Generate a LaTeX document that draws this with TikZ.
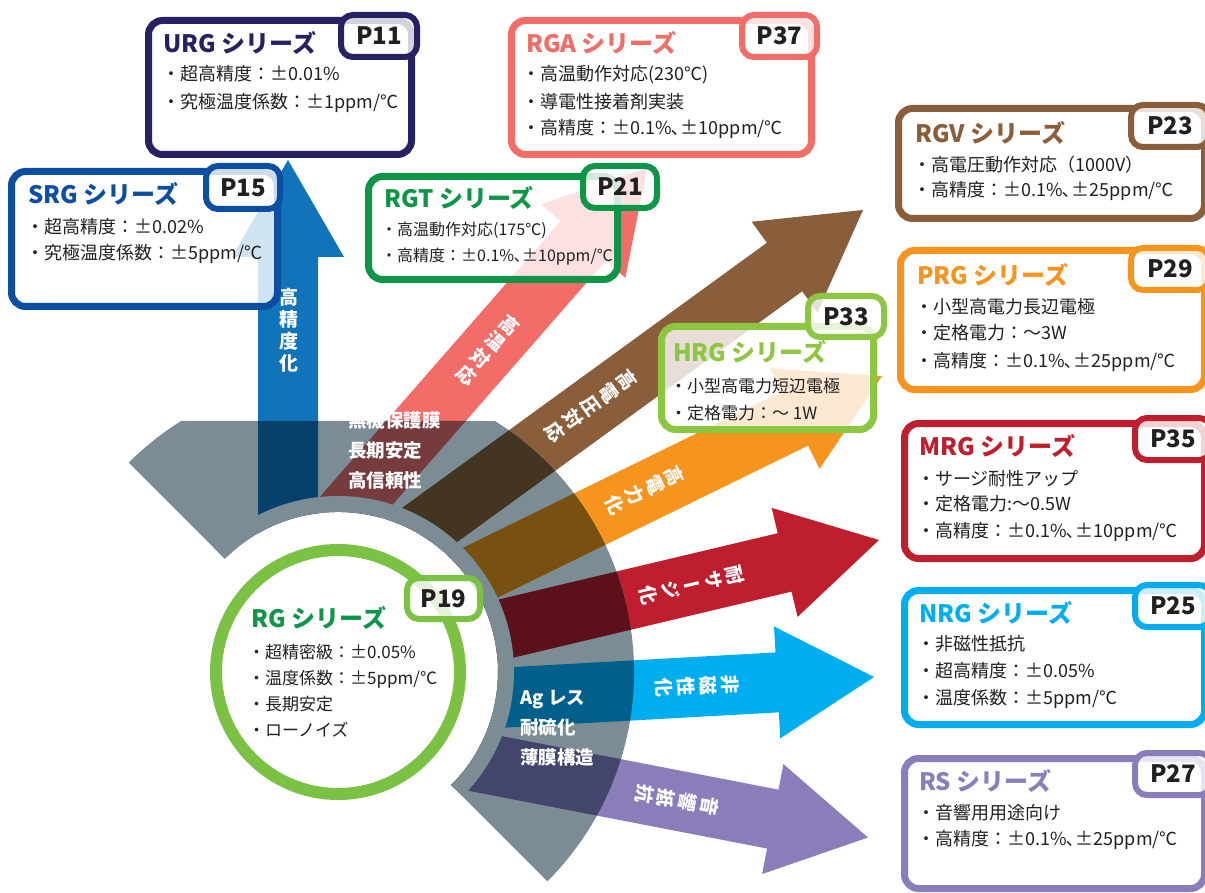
\documentclass[tikz,border=0pt]{standalone}
\usepackage{fontspec}
\setmainfont{Noto Sans CJK JP}
\newfontfamily\jpv{Noto Sans CJK JP}[RawFeature=+vert]
\usetikzlibrary{calc}

\definecolor{navyc}{HTML}{262262}
\definecolor{srgc}{HTML}{0B4EA2}
\definecolor{bluea}{HTML}{1174BB}
\definecolor{blued}{HTML}{08406C}
\definecolor{salm}{HTML}{F26C68}
\definecolor{salmd}{HTML}{763B3C}
\definecolor{rgtg}{HTML}{0F9547}
\definecolor{brn}{HTML}{8B5E3B}
\definecolor{brnd}{HTML}{443422}
\definecolor{org}{HTML}{F7941E}
\definecolor{orgd}{HTML}{785111}
\definecolor{hrgg}{HTML}{8DC640}
\definecolor{redc}{HTML}{BE1E2D}
\definecolor{redd}{HTML}{5C101A}
\definecolor{cyanc}{HTML}{00AEEF}
\definecolor{cyand}{HTML}{00608B}
\definecolor{purp}{HTML}{8A7DBA}
\definecolor{purpd}{HTML}{43456C}
\definecolor{greyc}{HTML}{7C8C94}
\definecolor{rgring}{HTML}{7BC143}
\definecolor{txt}{HTML}{231F20}

\newcommand\fatarrow[3]{%
  \coordinate (fa-B) at (#1);
  \coordinate (fa-T) at (#2);
  \coordinate (fa-H) at ($(fa-T)!97pt!(fa-B)$);
  \fill[#3] ($(fa-B)!30pt!90:(fa-T)$) -- ($(fa-H)!30pt!90:(fa-T)$) -- ($(fa-H)!56pt!90:(fa-T)$) -- (fa-T)
     -- ($(fa-H)!56pt!-90:(fa-T)$) -- ($(fa-H)!30pt!-90:(fa-T)$) -- ($(fa-B)!30pt!-90:(fa-T)$) -- cycle;}

\newcommand\serbox[6]{%
  \node[boxsty=#2, minimum width={#5-#3-7}, minimum height={#6-#4-7}] (#1) at ({#3+3.5},{#4+3.5}) {};}
\newcommand\ptag[7]{%
  \node[tagsty=#2, minimum width={#5-#3-6}, minimum height={#6-#4-6}] (#1) at ({(#3+#5)/2},{(#4+#6)/2}) {#7};}

\tikzset{
  boxsty/.style={draw=#1, line width=7pt, rounded corners=14pt, fill=white, fill opacity=0.8,
    anchor=north west, inner sep=0pt, outer sep=0pt},
  tagsty/.style={draw=#1, line width=6pt, rounded corners=12pt, fill=white, fill opacity=0.8,
    text opacity=1, text=txt, inner sep=0pt, font=\bfseries\fontsize{24}{26}\selectfont},
  ttl/.style={anchor=base west, inner sep=0pt, text=#1, font=\bfseries\fontsize{24}{28}\selectfont},
  bod/.style={anchor=base west, inner sep=0pt, text=txt, font=\fontsize{18}{21}\selectfont},
  bods/.style={bod, font=\fontsize{16}{19}\selectfont},
  bodm/.style={bod, font=\fontsize{17}{20}\selectfont},
  arrlab/.style={text=white, align=center, inner sep=0pt, font=\jpv\bfseries\fontsize{19}{22}\selectfont},
  greylab/.style={anchor=base west, inner sep=0pt, text=white, font=\bfseries\fontsize{18.5}{22}\selectfont},
}

\begin{document}
\begin{tikzpicture}[x=1pt,y=-1pt]
\useasboundingbox (0,0) rectangle (1205,893);
\clip (0,0) rectangle (1205,893);

% ---- arrows (normal colours)
\fatarrow{288,640}{288,160}{bluea}
\fatarrow{278.5,589.7}{647,168}{salm}
\fatarrow{377.6,562.8}{863,210}{brn}
\fatarrow{451,587}{882,376}{org}
\fatarrow{441,644}{879,540}{redc}
\fatarrow{425,702}{874,677}{cyanc}
\fatarrow{426,752}{868,837.5}{purp}

\fill[white] (338,672) circle[radius=176pt];

% ---- grey fan
\fill[greyc] (224.9,558.9) -- (128.7,462.7) arc[start angle=135, end angle=122, radius=296pt]
  -- (494.9,421) arc[start angle=58, end angle=-45, radius=296pt]
  -- (451.1,785.1) arc[start angle=-45, end angle=135, radius=160pt] -- cycle;

\begin{scope}
\clip (224.9,558.9) -- (128.7,462.7) arc[start angle=135, end angle=122, radius=296pt]
  -- (494.9,421) arc[start angle=58, end angle=-45, radius=296pt]
  -- (451.1,785.1) arc[start angle=-45, end angle=135, radius=160pt] -- cycle;
\fatarrow{288,640}{288,160}{blued}
\fatarrow{278.5,589.7}{647,168}{salmd}
\fatarrow{377.6,562.8}{863,210}{brnd}
\fatarrow{451,587}{882,376}{orgd}
\fatarrow{441,644}{879,540}{redd}
\fatarrow{425,702}{874,677}{cyand}
\fatarrow{426,752}{868,837.5}{purpd}
\fill[greyc] (338,672) circle[radius=176pt];
\end{scope}

% ---- arrow labels
\node[arrlab] (l-prec) at (289,330) {高\\精\\度\\化};
\node[arrlab, rotate=-41] (l-temp) at (488,350) {高\\温\\対\\応};
\node[arrlab, rotate=-54] (l-volt) at (591,406) {高\\電\\圧\\対\\応};
\node[arrlab, rotate=-64] (l-pow) at (645,490) {高\\電\\力\\化};
\node[arrlab, rotate=-77] (l-surge) at (692,585) {耐\\サ\\ー\\ジ\\化};
\node[arrlab, rotate=-87] (l-mag) at (697,686) {非\\磁\\性\\化};
\node[arrlab, rotate=-101] (l-aud) at (677,800) {音\\響\\抵\\抗};

% ---- labels on grey
\node[greylab] (g1) at (348,427) {無機保護膜};
\node[greylab] (g2) at (348,457) {長期安定};
\node[greylab] (g3) at (348,487) {高信頼性};
\node[greylab] (g4) at (520,704) {Ag レス};
\node[greylab] (g5) at (520,734) {耐硫化};
\node[greylab] (g6) at (520,764) {薄膜構造};

% ---- RG circle
\node[circle, draw=rgring, line width=12pt, minimum size=244pt, inner sep=0pt] (rg) at (338,672) {};
\ptag{rg-p}{rgring}{404}{575}{483}{622}{P19}
\node[ttl=rgtg] (rg-t) at (251,627) {RG シリーズ};
\node[bodm] (rg-1) at (248,658) {・超精密級：±0.05\%};
\node[bodm] (rg-2) at (248,684) {・温度係数：±5ppm/℃};
\node[bodm] (rg-3) at (248,710) {・長期安定};
\node[bodm] (rg-4) at (248,736) {・ローノイズ};

% ---- URG
\serbox{urg}{navyc}{145}{17}{415}{158}
\ptag{urg-p}{navyc}{338}{12}{420}{60}{P11}
\node[ttl=navyc] (urg-t) at (163,53) {URG シリーズ};
\node[bod] (urg-1) at (162,81) {・超高精度：±0.01\%};
\node[bod] (urg-2) at (162,109) {・究極温度係数：±1ppm/℃};

% ---- SRG
\serbox{srg}{srgc}{8}{168}{281}{310}
\ptag{srg-p}{srgc}{203}{163}{283}{212}{P15}
\node[ttl=srgc] (srg-t) at (28,204) {SRG シリーズ};
\node[bod] (srg-1) at (26,234) {・超高精度：±0.02\%};
\node[bod] (srg-2) at (26,260) {・究極温度係数：±5ppm/℃};

% ---- RGT
\serbox{rgt}{rgtg}{365}{173}{621}{283}
\ptag{rgt-p}{rgtg}{580}{163}{660}{211}{P21}
\node[ttl=rgtg] (rgt-t) at (384,208) {RGT シリーズ};
\node[bods] (rgt-1) at (381,236) {・高温動作対応(175℃)};
\node[bods] (rgt-2) at (381,262) {・高精度：±0.1\%､±10ppm/℃};

% ---- RGA
\serbox{rga}{salm}{508}{17}{815}{158}
\ptag{rga-p}{salm}{739}{12}{820}{60}{P37}
\node[ttl=salm] (rga-t) at (526,53) {RGA シリーズ};
\node[bod] (rga-1) at (522,81) {・高温動作対応(230℃)};
\node[bod] (rga-2) at (522,109) {・導電性接着剤実装};
\node[bod] (rga-3) at (522,135) {・高精度：±0.1\%､±10ppm/℃};

% ---- RGV
\serbox{rgv}{brn}{895}{105}{1208}{222}
\ptag{rgv-p}{brn}{1128}{102}{1212}{150}{P23}
\node[ttl=brn] (rgv-t) at (915,143) {RGV シリーズ};
\node[bod] (rgv-1) at (913,172) {・高電圧動作対応（1000V）};
\node[bod] (rgv-2) at (913,197) {・高精度：±0.1\%､±25ppm/℃};

% ---- PRG
\serbox{prg}{org}{897}{247}{1208}{393}
\ptag{prg-p}{org}{1128}{245}{1212}{293}{P29}
\node[ttl=org] (prg-t) at (917,285) {PRG シリーズ};
\node[bod] (prg-1) at (915,314) {・小型高電力長辺電極};
\node[bod] (prg-2) at (915,340) {・定格電力：～3W};
\node[bod] (prg-3) at (915,367) {・高精度：±0.1\%､±25ppm/℃};

% ---- HRG
\serbox{hrg}{hrgg}{658}{323}{877}{433}
\ptag{hrg-p}{hrgg}{805}{293}{887}{340}{P33}
\node[ttl=hrgg] (hrg-t) at (673,362) {HRG シリーズ};
\node[bodm] (hrg-1) at (670,392) {・小型高電力短辺電極};
\node[bodm] (hrg-2) at (670,419) {・定格電力：～ 1W};

% ---- MRG
\serbox{mrg}{redc}{901}{420}{1208}{562}
\ptag{mrg-p}{redc}{1132}{415}{1214}{463}{P35}
\node[ttl=redc] (mrg-t) at (919,455) {MRG シリーズ};
\node[bod] (mrg-1) at (917,485) {・サージ耐性アップ};
\node[bod] (mrg-2) at (917,510) {・定格電力:～0.5W};
\node[bod] (mrg-3) at (917,537) {・高精度：±0.1\%､±10ppm/℃};

% ---- NRG
\serbox{nrg}{cyanc}{901}{587}{1208}{728}
\ptag{nrg-p}{cyanc}{1132}{582}{1214}{630}{P25}
\node[ttl=cyanc] (nrg-t) at (919,622) {NRG シリーズ};
\node[bod] (nrg-1) at (917,650) {・非磁性抵抗};
\node[bod] (nrg-2) at (917,677) {・超高精度：±0.05\%};
\node[bod] (nrg-3) at (917,704) {・温度係数：±5ppm/℃};

% ---- RS
\serbox{rs}{purp}{901}{755}{1208}{892}
\ptag{rs-p}{purp}{1132}{750}{1214}{798}{P27}
\node[ttl=purp] (rs-t) at (919,790) {RS シリーズ};
\node[bod] (rs-1) at (917,819) {・音響用用途向け};
\node[bod] (rs-2) at (917,845) {・高精度：±0.1\%､±25ppm/℃};

\end{tikzpicture}
\end{document}
